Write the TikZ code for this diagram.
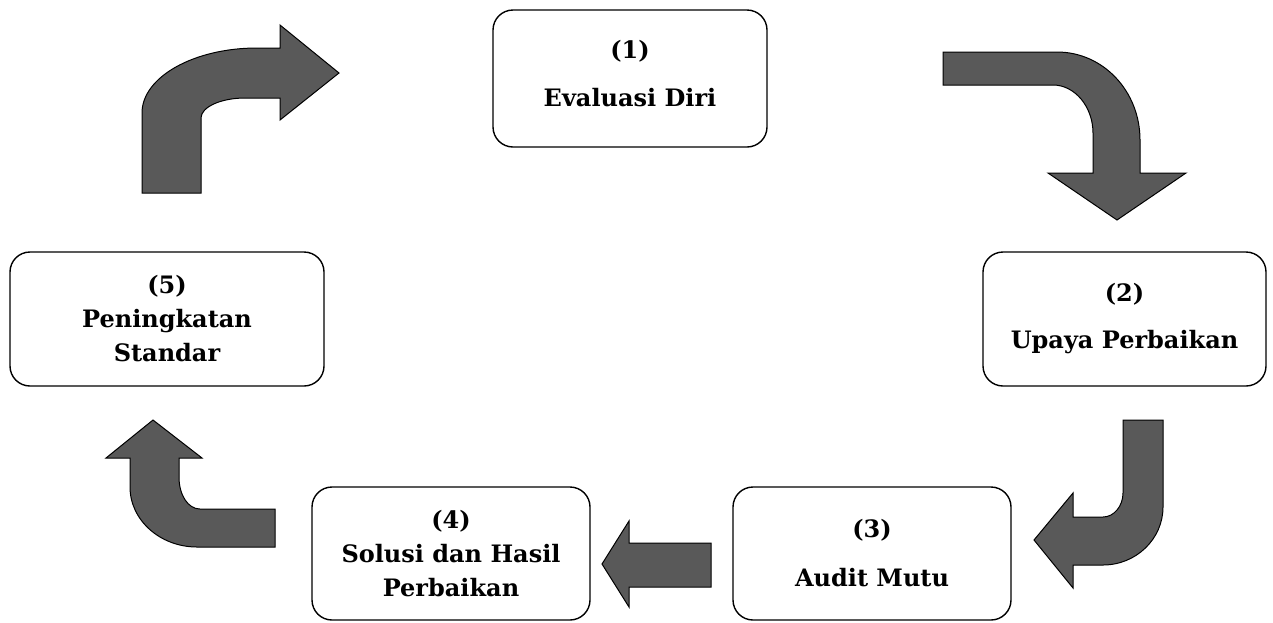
\documentclass[tikz,border=0pt]{standalone}
\usepackage{fontspec}
\setmainfont{DejaVu Serif}
\definecolor{arrowgray}{HTML}{595959}
\tikzset{
  stepbox/.style={draw=black, line width=1.4pt, rounded corners=20pt,
    inner sep=0pt, align=center, font=\fontsize{24}{34}\selectfont\bfseries},
  blockarrow/.style={fill=arrowgray, draw=black, line width=1pt, line join=miter}
}
\begin{document}
\begin{tikzpicture}[x=1pt, y=-1pt]

\useasboundingbox (0,0) rectangle (1273,622);

% --- The five steps ---
\node[stepbox, minimum width=274pt, minimum height=137pt] (eval) at (630,78.5)
  {(1)\\[14pt]Evaluasi Diri\\[-24pt]\mbox{}};
\node[stepbox, minimum width=283pt, minimum height=134pt] (upaya) at (1124.5,319)
  {(2)\\[13pt]Upaya Perbaikan};
\node[stepbox, minimum width=278pt, minimum height=133pt] (audit) at (872,553.5)
  {(3)\\[15pt]Audit Mutu};
\node[stepbox, minimum width=278pt, minimum height=133pt] (solusi) at (451,553.5)
  {(4)\\Solusi dan Hasil\\Perbaikan};
\node[stepbox, minimum width=314pt, minimum height=134pt] (standar) at (167,319)
  {(5)\\Peningkatan\\Standar};

% --- Block arrows between the steps ---
% (1) -> (2)
\draw[blockarrow] (943,52) -- (1057,52)
  .. controls (1103,52) and (1140,91) .. (1140,140)
  -- (1140,173) -- (1186,173) -- (1117,220) -- (1048,173) -- (1093,173)
  -- (1093,133) .. controls (1093,107) and (1075,85) .. (1053,85)
  -- (943,85) -- cycle;

% (2) -> (3)
\draw[blockarrow] (1123,420) -- (1163,420) -- (1163,507)
  .. controls (1163,539) and (1136,565) .. (1103,565)
  -- (1073,565) -- (1073,588) -- (1034,540) -- (1073,493) -- (1073,517)
  -- (1103,517) .. controls (1114,517) and (1123,506) .. (1123,493) -- cycle;

% (3) -> (4)
\draw[blockarrow] (711,543) -- (711,587) -- (629,587) -- (629,607)
  -- (602,564) -- (629,521) -- (629,543) -- cycle;

% (4) -> (5)
\draw[blockarrow] (153,420) -- (202,458) -- (179,458) -- (179,477)
  .. controls (179,495) and (188,509) .. (200,509)
  -- (275,509) -- (275,547) -- (197,547)
  .. controls (160,547) and (130,520) .. (130,487)
  -- (130,458) -- (106,458) -- cycle;

% (5) -> (1)
\draw[blockarrow] (142,193) -- (142,113)
  .. controls (142,77) and (194,48) .. (257,48)
  -- (280,48) -- (280,25) -- (339,73) -- (280,120) -- (280,98) -- (245,98)
  .. controls (221,98) and (201,107) .. (201,118)
  -- (201,193) -- cycle;

\end{tikzpicture}
\end{document}
